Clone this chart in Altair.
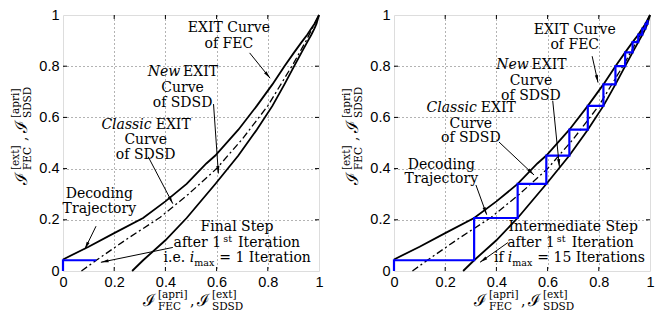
import math
import altair as alt
import pandas as pd

W, H = 256, 256
SERIF = "DejaVu Serif"
SANS = "Liberation Sans"

# ---------------- data ----------------
fec_x = [0, 0.1, 0.2, 0.313, 0.4, 0.483, 0.56, 0.595, 0.685, 0.757, 0.818, 0.865, 0.903, 0.932, 0.954, 0.97, 0.982, 1.0]
fec_y = [0.045, 0.095, 0.148, 0.207, 0.272, 0.34, 0.42, 0.451, 0.552, 0.645, 0.729, 0.80, 0.854, 0.894, 0.923, 0.947, 0.965, 1.0]

new_x = [0.27, 0.313, 0.4, 0.483, 0.595, 0.685, 0.757, 0.818, 0.865, 0.903, 0.932, 0.954, 0.97, 0.982, 0.99, 1.0]
new_y = [0.0, 0.042, 0.12, 0.207, 0.34, 0.451, 0.552, 0.645, 0.729, 0.80, 0.854, 0.894, 0.923, 0.947, 0.965, 1.0]

cls_x = [0.072, 0.13, 0.25, 0.38, 0.49, 0.6, 0.7, 0.8, 0.9, 0.95, 1.0]
cls_y = [0.0, 0.042, 0.125, 0.21, 0.30, 0.40, 0.515, 0.645, 0.81, 0.9, 1.0]

# left panel trajectory (i_max = 1)
trajL_x = [0, 0, 0.13]
trajL_y = [0, 0.042, 0.042]

# right panel staircase (i_max = 15)
stair_x = [0, 0.313, 0.483, 0.595, 0.685, 0.757, 0.818, 0.865, 0.903, 0.932, 0.954, 0.97, 0.982, 0.99]
stair_y = [0.042, 0.207, 0.34, 0.451, 0.552, 0.645, 0.729, 0.80, 0.854, 0.894, 0.923, 0.947, 0.965, 0.98]

tick_vals = [0, 0.2, 0.4, 0.6, 0.8, 1.0]
inner_ticks = [0.2, 0.4, 0.6, 0.8]

# annotation segments: (cx, cy, dx_px, dy_px, text, style, align)
annL = [
    (0.648, 0.935, 0, 0, "EXIT Curve", "rm", "center"),
    (0.648, 0.871, 0, 0, "of FEC", "rm", "center"),
    (0.467, 0.760, -34.8, 0, "New", "it", "left"),
    (0.467, 0.760, 0.5, 0, "EXIT", "rm", "left"),
    (0.467, 0.700, 0, 0, "Curve", "rm", "center"),
    (0.467, 0.640, 0, 0, "of SDSD", "rm", "center"),
    (0.323, 0.556, -44.3, 0, "Classic", "it", "left"),
    (0.323, 0.556, 10, 0, "EXIT", "rm", "left"),
    (0.323, 0.496, 0, 0, "Curve", "rm", "center"),
    (0.323, 0.436, 0, 0, "of SDSD", "rm", "center"),
    (0.142, 0.285, 0, 0, "Decoding", "rm", "center"),
    (0.142, 0.227, 0, 0, "Trajectory", "rm", "center"),
    (0.68, 0.158, 0, 0, "Final Step", "rm", "center"),
    (0.68, 0.092, -63.5, 0, "after 1", "rm", "left"),
    (0.68, 0.092, -13.8, -5, "st", "sm", "left"),
    (0.68, 0.092, 1.0, 0, "Iteration", "rm", "left"),
    (0.68, 0.034, -73.5, 0, "i.e.", "rm", "left"),
    (0.68, 0.034, -47.3, 0, "i", "it", "left"),
    (0.68, 0.034, -42.8, 3.5, "max", "sm", "left"),
    (0.68, 0.034, -17.8, 0, "= 1 Iteration", "rm", "left"),
]
annR = [
    (0.706, 0.925, 0, 0, "EXIT Curve", "rm", "center"),
    (0.706, 0.868, 0, 0, "of FEC", "rm", "center"),
    (0.535, 0.790, -34.8, 0, "New", "it", "left"),
    (0.535, 0.790, 0.5, 0, "EXIT", "rm", "left"),
    (0.535, 0.728, 0, 0, "Curve", "rm", "center"),
    (0.535, 0.668, 0, 0, "of SDSD", "rm", "center"),
    (0.300, 0.620, -44.3, 0, "Classic", "it", "left"),
    (0.300, 0.620, 10, 0, "EXIT", "rm", "left"),
    (0.300, 0.560, 0, 0, "Curve", "rm", "center"),
    (0.300, 0.502, 0, 0, "of SDSD", "rm", "center"),
    (0.185, 0.400, 0, 0, "Decoding", "rm", "center"),
    (0.185, 0.343, 0, 0, "Trajectory", "rm", "center"),
    (0.700, 0.158, 0, 0, "Intermediate Step", "rm", "center"),
    (0.690, 0.092, -63.5, 0, "after 1", "rm", "left"),
    (0.690, 0.092, -13.8, -5, "st", "sm", "left"),
    (0.690, 0.092, 1.0, 0, "Iteration", "rm", "left"),
    (0.685, 0.034, -75.4, 0, "if", "rm", "left"),
    (0.685, 0.034, -61.5, 0, "i", "it", "left"),
    (0.685, 0.034, -57.0, 3.5, "max", "sm", "left"),
    (0.685, 0.034, -32.0, 0, "= 15 Iterations", "rm", "left"),
]

# arrows: tail (x, y) -> tip (x2, y2)
arrL_x = [0.729, 0.588, 0.333, 0.129, 0.429]
arrL_y = [0.852, 0.652, 0.446, 0.175, 0.092]
arrL_x2 = [0.809, 0.607, 0.429, 0.085, 0.148]
arrL_y2 = [0.753, 0.381, 0.263, 0.085, 0.034]

arrR_x = [0.774, 0.620, 0.410, 0.320, 0.445]
arrR_y = [0.839, 0.665, 0.504, 0.336, 0.111]
arrR_x2 = [0.797, 0.646, 0.547, 0.362, 0.336]
arrR_y2 = [0.736, 0.407, 0.375, 0.220, 0.034]

# axis-title pieces: (text, perpendicular/baseline px, along px, font size)
xtitle_pieces = [
    ("ℐ", H + 35, 80, 17), ("[apri]", H + 27, 95, 10.5), ("FEC", H + 39, 95, 10.5), (",", H + 35, 127, 14),
    ("ℐ", H + 35, 134, 17), ("[ext]", H + 27, 149, 10.5), ("SDSD", H + 39, 149, 10.5),
]
ytitle_pieces = [
    ("ℐ", -36.5, 170, 17), ("[ext]", -44.5, 155, 10.5), ("FEC", -32, 155, 10.5), (",", -36.5, 126, 14),
    ("ℐ", -36.5, 118, 17), ("[apri]", -44.5, 103, 10.5), ("SDSD", -32, 103, 10.5),
]

# ---------------- chart ----------------
scale = alt.Scale(domain=[0, 1], nice=False, zero=False)
grid_op = {"condition": {"test": "datum.value <= 0.001 || datum.value >= 0.999", "value": 0}, "value": 1}
label_expr = "datum.value == 0 ? '0' : datum.value == 1 ? '1' : format(datum.value, '.1f')"


def mk_axis():
    return alt.Axis(values=tick_vals, labelExpr=label_expr, title=None, grid=True,
                    gridDash=[1, 3], gridColor="#666", gridWidth=1, gridOpacity=grid_op,
                    ticks=False, domain=False, labelFont=SANS, labelFontSize=14.5,
                    labelColor="black", labelPadding=4, labelFlush=False, labelOverlap=False)


def X(f):
    return alt.X(f, scale=scale, axis=mk_axis())


def Y(f):
    return alt.Y(f, scale=scale, axis=mk_axis())


def curve(xs, ys, color="black", width=1.8, dash=None):
    df = pd.DataFrame({"x": xs, "y": ys, "o": range(len(xs))})
    kw = dict(color=color, strokeWidth=width)
    if dash:
        kw["strokeDash"] = dash
    return alt.Chart(df).mark_line(**kw).encode(x=X("x:Q"), y=Y("y:Q"), order="o:Q")


def inward_ticks():
    df = pd.DataFrame({"v": inner_ticks})
    base = alt.Chart(df).mark_rule(color="black", strokeWidth=1)
    return [
        base.encode(x=X("v:Q"), y=alt.value(H), y2=alt.value(H - 4)),
        base.encode(x=X("v:Q"), y=alt.value(0), y2=alt.value(4)),
        base.encode(y=Y("v:Q"), x=alt.value(0), x2=alt.value(4)),
        base.encode(y=Y("v:Q"), x=alt.value(W), x2=alt.value(W - 4)),
    ]


def stair_path(sx, sy):
    px, py = [sx[0], sx[0]], [0.0, sy[0]]
    for i in range(1, len(sx)):
        px += [sx[i], sx[i]]
        py += [sy[i - 1], sy[i]]
    return px, py


def annotations(segs):
    layers = []
    styles = {"rm": (14, "normal"), "it": (14, "italic"), "sm": (9.5, "normal")}
    for st, (fs, fst) in styles.items():
        for al in ["left", "center"]:
            rows = [s for s in segs if s[5] == st and s[6] == al]
            if not rows:
                continue
            df = pd.DataFrame({
                "x": [r[0] + r[2] / W for r in rows],
                "y": [r[1] - r[3] / H for r in rows],
                "t": [r[4] for r in rows],
            })
            layers.append(alt.Chart(df).mark_text(font=SERIF, fontSize=fs, fontStyle=fst, align=al,
                                                  baseline="alphabetic", color="black")
                          .encode(x=X("x:Q"), y=Y("y:Q"), text="t:N"))
    return layers


def arrows(ax, ay, ax2, ay2):
    df = pd.DataFrame({"x": ax, "y": ay, "x2": ax2, "y2": ay2})
    df["ang"] = [(math.degrees(math.atan2((b - a) * W, (d - c) * H)) + 360) % 360
                 for a, b, c, d in zip(ax, ax2, ay, ay2)]
    shafts = alt.Chart(df).mark_rule(color="black", strokeWidth=1).encode(
        x=X("x:Q"), y=Y("y:Q"), x2="x2:Q", y2="y2:Q")
    heads = alt.Chart(df).mark_point(shape="M0,0L-0.45,2.2L0.45,2.2Z", filled=True, size=49,
                                     color="black", opacity=1, strokeWidth=0).encode(
        x=X("x2:Q"), y=Y("y2:Q"), angle=alt.Angle("ang:Q", scale=None))
    return [shafts, heads]


def piece(text, px, py, size, angle=0):
    return alt.Chart(pd.DataFrame({"t": [text]})).mark_text(
        font=SERIF, fontSize=size, align="left", baseline="alphabetic", angle=angle, color="black"
    ).encode(x=alt.value(px), y=alt.value(py), text="t:N")


def titles():
    out = []
    for t, perp, along, fs in xtitle_pieces:
        out.append(piece(t, along, perp, fs))
    for t, perp, along, fs in ytitle_pieces:
        out.append(piece(t, perp, along, fs, angle=270))
    return out


def panel(traj_x, traj_y, segs, arr):
    layers = [
        curve(fec_x, fec_y),
        curve(new_x, new_y),
        curve(cls_x, cls_y, width=1.3, dash=[7, 3, 2, 3]),
        curve(traj_x, traj_y, color="#0000ff", width=2.2),
    ]
    layers += inward_ticks()
    layers += arrows(*arr)
    layers += annotations(segs)
    layers += titles()
    return alt.layer(*layers).properties(width=W, height=H)


sx, sy = stair_path(stair_x, stair_y)
left = panel(trajL_x, trajL_y, annL, (arrL_x, arrL_y, arrL_x2, arrL_y2))
right = panel(sx, sy, annR, (arrR_x, arrR_y, arrR_x2, arrR_y2))

chart = alt.hconcat(left, right, spacing=17).properties(
    padding={"left": 2, "top": -2, "right": 0, "bottom": -2}
).configure_view(stroke="black", strokeWidth=1).configure(background="white")

chart.save("out.html", embed_options={"renderer": "svg", "actions": False})
